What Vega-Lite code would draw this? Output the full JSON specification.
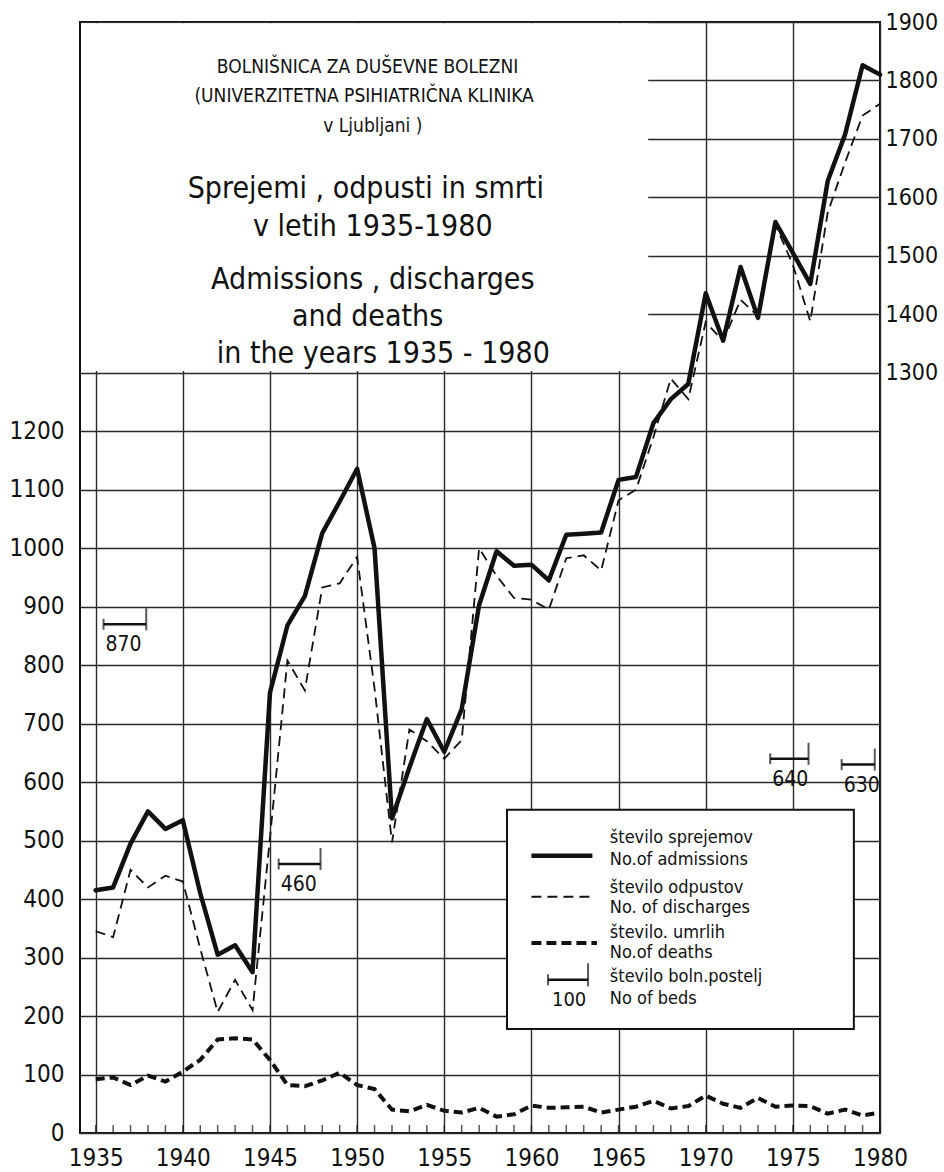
{
  "$schema": "https://vega.github.io/schema/vega-lite/v6.json",
  "width": 800,
  "height": 1111,
  "autosize": {"type": "none"},
  "padding": {"left": 80, "top": 22, "right": 64, "bottom": 39},
  "background": "white",
  "config": {
    "font": "DejaVu Sans Condensed, Liberation Sans Narrow, sans-serif",
    "view": {"stroke": "#111", "strokeWidth": 2},
    "axis": {"labelFont": "DejaVu Sans Condensed, Liberation Sans Narrow, sans-serif", "labelFontSize": 24, "labelColor": "#111", "gridColor": "#2a2a2a", "gridWidth": 1.4, "gridOpacity": 1, "domain": false, "title": null, "labelOverlap": false},
    "text": {"color": "#111"}
  },
  "datasets": {
    "series": [
      {"year": 1935, "admissions": 415, "discharges": 345, "deaths": 92},
      {"year": 1936, "admissions": 420, "discharges": 335, "deaths": 95},
      {"year": 1937, "admissions": 495, "discharges": 450, "deaths": 82},
      {"year": 1938, "admissions": 550, "discharges": 420, "deaths": 98},
      {"year": 1939, "admissions": 520, "discharges": 440, "deaths": 88},
      {"year": 1940, "admissions": 535, "discharges": 430, "deaths": 105},
      {"year": 1941, "admissions": 410, "discharges": 315, "deaths": 125},
      {"year": 1942, "admissions": 305, "discharges": 207, "deaths": 160},
      {"year": 1943, "admissions": 321, "discharges": 262, "deaths": 162},
      {"year": 1944, "admissions": 275, "discharges": 210, "deaths": 160},
      {"year": 1945, "admissions": 753, "discharges": 505, "deaths": 125},
      {"year": 1946, "admissions": 868, "discharges": 808, "deaths": 82},
      {"year": 1947, "admissions": 918, "discharges": 757, "deaths": 80},
      {"year": 1948, "admissions": 1026, "discharges": 933, "deaths": 90},
      {"year": 1949, "admissions": 1080, "discharges": 940, "deaths": 103},
      {"year": 1950, "admissions": 1136, "discharges": 985, "deaths": 82},
      {"year": 1951, "admissions": 1000, "discharges": 760, "deaths": 75},
      {"year": 1952, "admissions": 538, "discharges": 497, "deaths": 40},
      {"year": 1953, "admissions": 625, "discharges": 690, "deaths": 37},
      {"year": 1954, "admissions": 708, "discharges": 670, "deaths": 48},
      {"year": 1955, "admissions": 652, "discharges": 640, "deaths": 38},
      {"year": 1956, "admissions": 725, "discharges": 672, "deaths": 35},
      {"year": 1957, "admissions": 903, "discharges": 1000, "deaths": 43},
      {"year": 1958, "admissions": 995, "discharges": 953, "deaths": 28},
      {"year": 1959, "admissions": 970, "discharges": 915, "deaths": 32},
      {"year": 1960, "admissions": 972, "discharges": 912, "deaths": 47},
      {"year": 1961, "admissions": 945, "discharges": 895, "deaths": 43},
      {"year": 1962, "admissions": 1023, "discharges": 983, "deaths": 44},
      {"year": 1963, "admissions": 1025, "discharges": 988, "deaths": 45},
      {"year": 1964, "admissions": 1027, "discharges": 962, "deaths": 35},
      {"year": 1965, "admissions": 1117, "discharges": 1082, "deaths": 40},
      {"year": 1966, "admissions": 1122, "discharges": 1100, "deaths": 45},
      {"year": 1967, "admissions": 1214, "discharges": 1190, "deaths": 55},
      {"year": 1968, "admissions": 1255, "discharges": 1290, "deaths": 42},
      {"year": 1969, "admissions": 1281, "discharges": 1255, "deaths": 46},
      {"year": 1970, "admissions": 1436, "discharges": 1387, "deaths": 64},
      {"year": 1971, "admissions": 1355, "discharges": 1354, "deaths": 50},
      {"year": 1972, "admissions": 1481, "discharges": 1425, "deaths": 43},
      {"year": 1973, "admissions": 1394, "discharges": 1397, "deaths": 60},
      {"year": 1974, "admissions": 1558, "discharges": 1553, "deaths": 45},
      {"year": 1975, "admissions": 1505, "discharges": 1485, "deaths": 47},
      {"year": 1976, "admissions": 1452, "discharges": 1388, "deaths": 46},
      {"year": 1977, "admissions": 1628, "discharges": 1574, "deaths": 33},
      {"year": 1978, "admissions": 1708, "discharges": 1660, "deaths": 40},
      {"year": 1979, "admissions": 1826, "discharges": 1740, "deaths": 30},
      {"year": 1980, "admissions": 1810, "discharges": 1760, "deaths": 35}
    ],
    "beds": [
      {"beds": 870, "from": 1935.45, "to": 1937.9},
      {"beds": 460, "from": 1945.5, "to": 1947.9},
      {"beds": 640, "from": 1973.7, "to": 1975.9},
      {"beds": 630, "from": 1977.8, "to": 1979.7}
    ]
  },
  "layer": [
    {
      "data": {"name": "series"},
      "mark": {"type": "line", "color": "#111", "strokeWidth": 4.5, "strokeJoin": "round", "strokeCap": "round"},
      "encoding": {
        "x": {"field": "year", "type": "quantitative",
              "scale": {"domain": [1934.1, 1980], "nice": false, "zero": false},
              "axis": {"orient": "bottom", "values": [1935,1940,1945,1950,1955,1960,1965,1970,1975,1980],
                       "format": "d", "ticks": false, "labelPadding": 13, "labelFlush": false,
                       "grid": true}},
        "y": {"field": "admissions", "type": "quantitative",
              "scale": {"domain": [0, 1900], "nice": false, "zero": true},
              "axis": {"orient": "left", "format": "d", "values": [0,100,200,300,400,500,600,700,800,900,1000,1100,1200], "ticks": false, "labelPadding": 16, "grid": true}}
      }
    },
    {
      "data": {"name": "series"},
      "mark": {"type": "line", "color": "#111", "strokeWidth": 1.8, "strokeDash": [10, 6]},
      "encoding": {
        "x": {"field": "year", "type": "quantitative", "axis": null},
        "y": {"field": "discharges", "type": "quantitative", "axis": null}
      }
    },
    {
      "data": {"name": "series"},
      "mark": {"type": "line", "color": "#111", "strokeWidth": 4, "strokeDash": [9, 5]},
      "encoding": {
        "x": {"field": "year", "type": "quantitative", "axis": null},
        "y": {"field": "deaths", "type": "quantitative",
              "axis": {"orient": "right", "format": "d", "values": [1300,1400,1500,1600,1700,1800,1900], "ticks": false, "labelPadding": 5, "grid": true, "labelFlush": false, "labelFontSize": 23}}
      }
    },
    {
      "data": {"name": "series"},
      "mark": {"type": "tick", "orient": "vertical", "size": 8, "thickness": 1.5, "color": "#111", "yOffset": -4},
      "encoding": {
        "x": {"field": "year", "type": "quantitative", "axis": null},
        "y": {"datum": 0, "axis": null}
      }
    },
    {
      "data": {"values": [{}]},
      "mark": {"type": "rect", "fill": "white"},
      "encoding": {
        "x": {"datum": 1934.16, "axis": null}, "x2": {"datum": 1966.7},
        "y": {"datum": 1303, "axis": null}, "y2": {"datum": 1898}
      }
    },
    {
      "data": {"values": [{}]},
      "mark": {"type": "rect", "fill": "white", "stroke": "#111", "strokeWidth": 2},
      "encoding": {
        "x": {"datum": 1958.6, "axis": null}, "x2": {"datum": 1978.5},
        "y": {"datum": 178, "axis": null}, "y2": {"datum": 553}
      }
    },
    {
      "data": {"values": [{}]},
      "mark": {"type": "rule", "color": "#111", "strokeWidth": 4.5},
      "encoding": {"x": {"datum": 1960.0, "axis": null}, "x2": {"datum": 1963.5}, "y": {"datum": 474, "axis": null}}
    },
    {
      "data": {"values": [{}]},
      "mark": {"type": "rule", "color": "#111", "strokeWidth": 1.8, "strokeDash": [10, 6]},
      "encoding": {"x": {"datum": 1960.0, "axis": null}, "x2": {"datum": 1963.5}, "y": {"datum": 404, "axis": null}}
    },
    {
      "data": {"values": [{}]},
      "mark": {"type": "rule", "color": "#111", "strokeWidth": 4, "strokeDash": [10, 5]},
      "encoding": {"x": {"datum": 1960.0, "axis": null}, "x2": {"datum": 1963.76}, "y": {"datum": 325, "axis": null}}
    },
    {
      "data": {"values": [{}]},
      "mark": {"type": "rule", "color": "#111", "strokeWidth": 2.5},
      "encoding": {"x": {"datum": 1960.95, "axis": null}, "x2": {"datum": 1963.25}, "y": {"datum": 262, "axis": null}}
    },
    {
      "data": {"values": [{}]},
      "mark": {"type": "tick", "orient": "vertical", "size": 11, "thickness": 2, "color": "#111"},
      "encoding": {"x": {"datum": 1960.95, "axis": null}, "y": {"datum": 262, "axis": null}}
    },
    {
      "data": {"values": [{}]},
      "mark": {"type": "tick", "orient": "vertical", "size": 23, "thickness": 2, "color": "#111", "yOffset": -5},
      "encoding": {"x": {"datum": 1963.25, "axis": null}, "y": {"datum": 262, "axis": null}}
    },
    {
      "data": {"values": [{}]},
      "mark": {"type": "text", "align": "left", "baseline": "middle", "fontSize": 20, "dx": 4, "dy": 20},
      "encoding": {"x": {"datum": 1960.95, "axis": null}, "y": {"datum": 262, "axis": null}, "text": {"value": "100"}}
    },
    {
      "data": {"values": [{}]},
      "mark": {"type": "text", "align": "left", "baseline": "middle", "fontSize": 18},
      "encoding": {"x": {"datum": 1964.5, "axis": null}, "y": {"datum": 505, "axis": null}, "text": {"value": "število sprejemov"}}
    },
    {
      "data": {"values": [{}]},
      "mark": {"type": "text", "align": "left", "baseline": "middle", "fontSize": 18},
      "encoding": {"x": {"datum": 1964.5, "axis": null}, "y": {"datum": 467, "axis": null}, "text": {"value": "No.of admissions"}}
    },
    {
      "data": {"values": [{}]},
      "mark": {"type": "text", "align": "left", "baseline": "middle", "fontSize": 18},
      "encoding": {"x": {"datum": 1964.5, "axis": null}, "y": {"datum": 419, "axis": null}, "text": {"value": "število odpustov"}}
    },
    {
      "data": {"values": [{}]},
      "mark": {"type": "text", "align": "left", "baseline": "middle", "fontSize": 18},
      "encoding": {"x": {"datum": 1964.5, "axis": null}, "y": {"datum": 385, "axis": null}, "text": {"value": "No. of discharges"}}
    },
    {
      "data": {"values": [{}]},
      "mark": {"type": "text", "align": "left", "baseline": "middle", "fontSize": 18},
      "encoding": {"x": {"datum": 1964.5, "axis": null}, "y": {"datum": 342, "axis": null}, "text": {"value": "število. umrlih"}}
    },
    {
      "data": {"values": [{}]},
      "mark": {"type": "text", "align": "left", "baseline": "middle", "fontSize": 18},
      "encoding": {"x": {"datum": 1964.5, "axis": null}, "y": {"datum": 308, "axis": null}, "text": {"value": "No.of deaths"}}
    },
    {
      "data": {"values": [{}]},
      "mark": {"type": "text", "align": "left", "baseline": "middle", "fontSize": 18},
      "encoding": {"x": {"datum": 1964.5, "axis": null}, "y": {"datum": 267, "axis": null}, "text": {"value": "število boln.postelj"}}
    },
    {
      "data": {"values": [{}]},
      "mark": {"type": "text", "align": "left", "baseline": "middle", "fontSize": 18},
      "encoding": {"x": {"datum": 1964.5, "axis": null}, "y": {"datum": 229, "axis": null}, "text": {"value": "No of beds"}}
    },
    {
      "data": {"name": "beds"},
      "mark": {"type": "rule", "color": "#111", "strokeWidth": 2.5},
      "encoding": {
        "x": {"field": "from", "type": "quantitative", "axis": null}, "x2": {"field": "to"},
        "y": {"field": "beds", "type": "quantitative", "axis": null}
      }
    },
    {
      "data": {"name": "beds"},
      "mark": {"type": "tick", "orient": "vertical", "size": 11, "thickness": 2, "color": "#111"},
      "encoding": {
        "x": {"field": "from", "type": "quantitative", "axis": null},
        "y": {"field": "beds", "type": "quantitative", "axis": null}
      }
    },
    {
      "data": {"name": "beds"},
      "mark": {"type": "tick", "orient": "vertical", "size": 22, "thickness": 2, "color": "#111", "yOffset": -5},
      "encoding": {
        "x": {"field": "to", "type": "quantitative", "axis": null},
        "y": {"field": "beds", "type": "quantitative", "axis": null}
      }
    },
    {
      "data": {"name": "beds"},
      "mark": {"type": "text", "align": "left", "baseline": "middle", "fontSize": 21, "dx": 2, "dy": 21},
      "encoding": {
        "x": {"field": "from", "type": "quantitative", "axis": null},
        "y": {"field": "beds", "type": "quantitative", "axis": null},
        "text": {"field": "beds", "type": "quantitative"}
      }
    },
    {
      "data": {"values": [{}]},
      "mark": {"type": "text", "align": "center", "baseline": "middle", "fontSize": 19},
      "encoding": {"x": {"datum": 1950.6, "axis": null}, "y": {"datum": 1823, "axis": null}, "text": {"value": "BOLNIŠNICA  ZA  DUŠEVNE  BOLEZNI"}}
    },
    {
      "data": {"values": [{}]},
      "mark": {"type": "text", "align": "center", "baseline": "middle", "fontSize": 19},
      "encoding": {"x": {"datum": 1950.4, "axis": null}, "y": {"datum": 1773, "axis": null}, "text": {"value": "(UNIVERZITETNA  PSIHIATRIČNA  KLINIKA"}}
    },
    {
      "data": {"values": [{}]},
      "mark": {"type": "text", "align": "center", "baseline": "middle", "fontSize": 19},
      "encoding": {"x": {"datum": 1950.9, "axis": null}, "y": {"datum": 1722, "axis": null}, "text": {"value": "v  Ljubljani  )"}}
    },
    {
      "data": {"values": [{}]},
      "mark": {"type": "text", "align": "center", "baseline": "middle", "fontSize": 30},
      "encoding": {"x": {"datum": 1950.5, "axis": null}, "y": {"datum": 1614, "axis": null}, "text": {"value": "Sprejemi , odpusti in smrti"}}
    },
    {
      "data": {"values": [{}]},
      "mark": {"type": "text", "align": "center", "baseline": "middle", "fontSize": 30},
      "encoding": {"x": {"datum": 1950.9, "axis": null}, "y": {"datum": 1549, "axis": null}, "text": {"value": "v letih 1935-1980"}}
    },
    {
      "data": {"values": [{}]},
      "mark": {"type": "text", "align": "center", "baseline": "middle", "fontSize": 30},
      "encoding": {"x": {"datum": 1950.9, "axis": null}, "y": {"datum": 1458, "axis": null}, "text": {"value": "Admissions , discharges"}}
    },
    {
      "data": {"values": [{}]},
      "mark": {"type": "text", "align": "center", "baseline": "middle", "fontSize": 30},
      "encoding": {"x": {"datum": 1950.6, "axis": null}, "y": {"datum": 1395, "axis": null}, "text": {"value": "and deaths"}}
    },
    {
      "data": {"values": [{}]},
      "mark": {"type": "text", "align": "center", "baseline": "middle", "fontSize": 30},
      "encoding": {"x": {"datum": 1951.5, "axis": null}, "y": {"datum": 1332, "axis": null}, "text": {"value": "in the years  1935 - 1980"}}
    }
  ],
  "resolve": {"axis": {"x": "independent", "y": "independent"}}
}
